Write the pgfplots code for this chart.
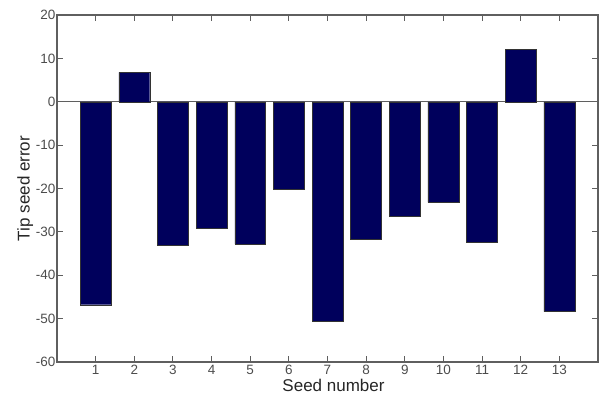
\documentclass[border=0pt]{standalone}
\usepackage{pgfplots}
\pgfplotsset{compat=1.18}
\usepackage{fontspec}
\setmainfont{Liberation Sans}
\definecolor{barblue}{RGB}{0,0,92}
\definecolor{axgray}{RGB}{95,95,95}
\begin{document}
\begin{tikzpicture}[x=1pt,y=1pt]
\path[use as bounding box] (-57,-37) rectangle (543,362);
\begin{axis}[
  at={(0,0)}, anchor=south west,
  scale only axis, width=541pt, height=347pt,
  xmin=0, xmax=14, ymin=-60, ymax=20,
  xtick={1,...,13}, ytick={-60,-50,...,20},
  tick pos=both, tick align=inside,
  major tick length=6pt,
  axis line style={axgray, line width=1.3pt},
  every major tick/.append style={draw=axgray, line width=1.1pt},
  tick label style={font=\fontsize{13.5}{14}\selectfont, text=black!70},
  /pgf/number format/assume math mode=true,
  yticklabel style={xshift=2pt},
  label style={font=\fontsize{17}{18}\selectfont, text=black!85},
  xlabel={Seed number}, ylabel={Tip seed error},
  xlabel style={yshift=3pt, xshift=6pt},
  ylabel style={yshift=-4pt},
]
\addplot[axgray, line width=0.9pt, forget plot] coordinates {(0,0) (14,0)};
\addplot[ybar, bar width=0.8, fill=barblue, draw=black!80, line width=0.4pt] coordinates {
(1,-46.8) (2,6.8) (3,-33.1) (4,-29.1) (5,-32.8) (6,-20.2) (7,-50.7)
(8,-31.7) (9,-26.3) (10,-23.2) (11,-32.3) (12,12.0) (13,-48.4)
};
\end{axis}
\begin{axis}[
  at={(0,0)}, anchor=south west,
  scale only axis, width=541pt, height=347pt,
  xmin=0, xmax=14, ymin=-60, ymax=20,
  axis x line*=top, axis y line*=right,
  xtick={1,...,13}, ytick={-60,-50,...,20},
  xticklabels={}, yticklabels={},
  tick align=inside, major tick length=6pt,
  axis line style={axgray, line width=1.3pt, -},
  every major tick/.append style={draw=axgray, line width=1.1pt},
]
\end{axis}
\end{tikzpicture}
\end{document}
